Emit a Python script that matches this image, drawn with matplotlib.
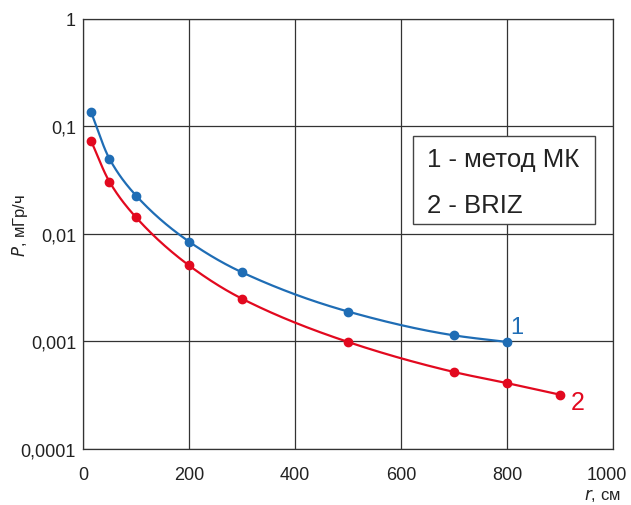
import numpy as np
import matplotlib
matplotlib.use("Agg")
import matplotlib.pyplot as plt
from matplotlib.patches import Rectangle
from matplotlib.transforms import ScaledTranslation

plt.rcParams['font.family'] = ['Liberation Sans', 'DejaVu Sans']

r_mc = [15, 50, 100, 200, 300, 500, 700, 800]
p_mc = [0.137, 0.050, 0.0228, 0.0085, 0.0044, 0.0019, 0.00114, 0.00099]
r_briz = [15, 50, 100, 200, 300, 500, 700, 800, 900]
p_briz = [0.074, 0.0306, 0.0143, 0.0051, 0.0025, 0.00099, 0.00052, 0.00041, 0.00032]
xticks = [0, 200, 400, 600, 800, 1000]
yticks = [0.0001, 0.001, 0.01, 0.1, 1]
ytick_labels = ["0,0001", "0,001", "0,01", "0,1", "1"]
legend_lines = ["1 - метод МК", "2 - BRIZ"]

BLUE = "#1f6db5"
RED = "#e2091f"
TXT = "#222222"


def pchip(x, y, xn):
    x = np.asarray(x, float); y = np.asarray(y, float)
    h = np.diff(x); d = np.diff(y) / h
    n = len(x); m = np.zeros(n)
    for k in range(1, n - 1):
        if d[k - 1] * d[k] > 0:
            w1 = 2 * h[k] + h[k - 1]; w2 = h[k] + 2 * h[k - 1]
            m[k] = (w1 + w2) / (w1 / d[k - 1] + w2 / d[k])
    m[0] = d[0]; m[-1] = d[-1]
    out = np.empty_like(xn)
    for i, xv in enumerate(xn):
        k = min(max(np.searchsorted(x, xv) - 1, 0), n - 2)
        t = (xv - x[k]) / h[k]
        h00 = 2 * t**3 - 3 * t**2 + 1; h10 = t**3 - 2 * t**2 + t
        h01 = -2 * t**3 + 3 * t**2; h11 = t**3 - t**2
        out[i] = h00 * y[k] + h10 * h[k] * m[k] + h01 * y[k + 1] + h11 * h[k] * m[k + 1]
    return out


fig = plt.figure(figsize=(6.31, 5.06), dpi=100)
ax = fig.add_axes([0.1315, 0.1107, 0.84, 0.8498])
ax.set_yscale('log')
ax.set_xlim(0, 1000)
ax.set_ylim(1e-4, 1)

for rx, py, c in [(r_mc, p_mc, BLUE), (r_briz, p_briz, RED)]:
    xs = np.linspace(rx[0], rx[-1], 400)
    ys = 10 ** pchip(rx, np.log10(py), xs)
    ax.plot(xs, ys, color=c, lw=1.6, zorder=3)
    ax.plot(rx, py, 'o', color=c, ms=6, zorder=4)

ax.set_xticks(xticks)
ax.set_yticks(yticks)
ax.set_yticklabels(ytick_labels)
ax.minorticks_off()
ax.tick_params(axis='both', length=0, labelsize=13, colors=TXT)
ax.tick_params(axis='x', pad=12)
ax.tick_params(axis='y', pad=5)
ax.grid(True, color='#333333', lw=0.9)
for s in ax.spines.values():
    s.set_color('#333333'); s.set_linewidth(0.9)

# nudge the last x tick label inward so it stays inside the figure
last = ax.get_xticklabels()[-1]
last.set_transform(last.get_transform() + ScaledTranslation(-6 / 100, 0, fig.dpi_scale_trans))

ax.text(806, 0.00121, "1", color=BLUE, fontsize=17, va='baseline')
ax.text(921, 0.000233, "2", color=RED, fontsize=18, va='baseline')

fig.text(0.032, 0.555, "$\\it{P}$, мГр/ч", rotation=90, fontsize=12, va='center', ha='center', color=TXT)
fig.text(0.983, 0.02, "$\\it{r}$, см", fontsize=12, ha='right', va='center', color=TXT)

ax.add_patch(Rectangle((0.623, 0.523), 0.343, 0.205, transform=ax.transAxes,
                       fc='white', ec='#444444', lw=1.0, zorder=5))
ax.text(0.649, 0.674, legend_lines[0], transform=ax.transAxes, fontsize=18.5,
        va='center', ha='left', color=TXT, zorder=6)
ax.text(0.649, 0.567, legend_lines[1], transform=ax.transAxes, fontsize=18.5,
        va='center', ha='left', color=TXT, zorder=6)

fig.savefig("out.png", dpi=100)
